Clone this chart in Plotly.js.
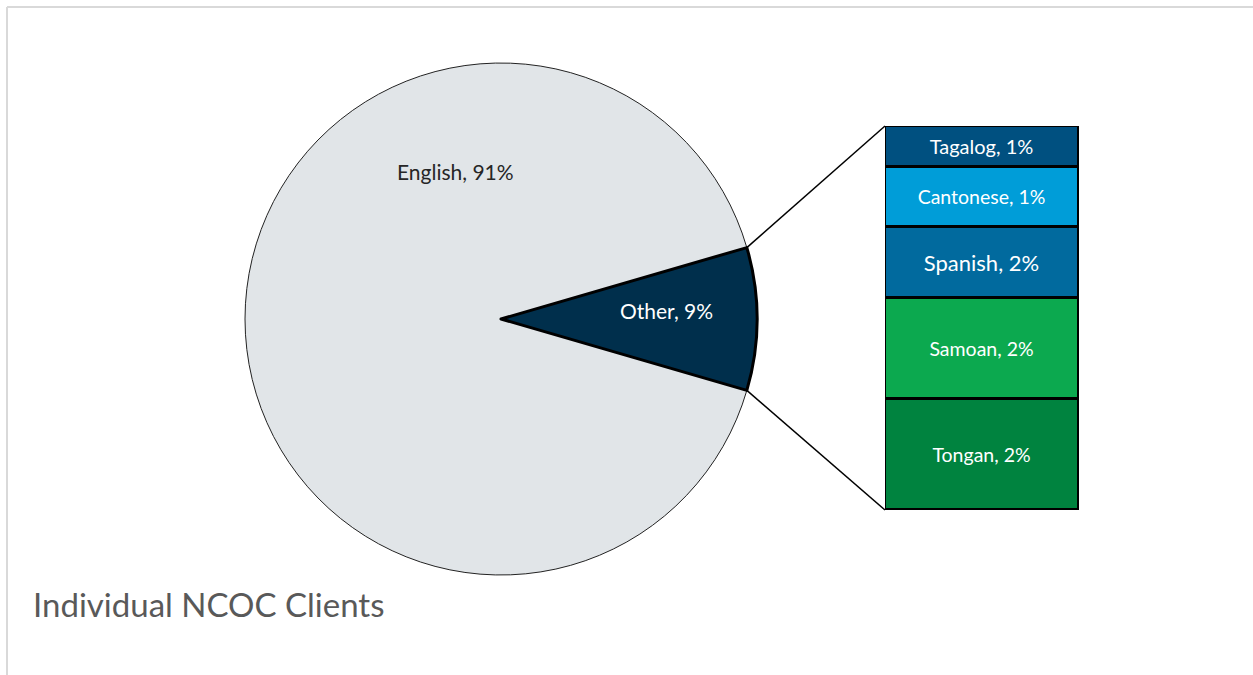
<!DOCTYPE html>
<html><head><meta charset="utf-8">
<script src="https://cdn.plot.ly/plotly-3.0.1.min.js"></script>
<style>html,body{margin:0;padding:0;background:#fff;}#chart{width:1253px;height:675px;}</style>
</head><body><div id="chart"></div>
<script>
// Pie data
const pieLabels = ["English", "Other"];
const pieValues = [91, 9];
const pieColors = ["#E1E5E8", "#002F4C"];

// Breakdown of "Other" (bottom to top)
const barLabels = ["Tongan", "Samoan", "Spanish", "Cantonese", "Tagalog"];
const barValues = [2.6, 2.37, 1.66, 1.41, 0.96];
const barShownPct = [2, 2, 2, 1, 1];
const barColors = ["#00833F", "#0CA94F", "#016A9E", "#009DD8", "#005080"];
const barFontSizes = [19.5, 19.5, 22, 19.5, 20];

const W = 1253, H = 675;
const px = x => x / W, py = y => 1 - y / H;
const FONT = "Lato, 'Open Sans', sans-serif";

// Geometry (pixels)
const pieBox = {x0: 245, x1: 757, y0: 63, y1: 575};
const barBox = {x0: 885, x1: 1079, y0: 126, y1: 510};

const totalPie = pieValues.reduce((a, b) => a + b, 0);
const otherFrac = pieValues[1] / totalPie;
const englishDeg = 360 * pieValues[0] / totalPie;
// clockwise; Other centered at 3 o'clock (90deg)
const rotation = 90 - 360 * otherFrac / 2 - englishDeg;

const traces = [{
  type: "pie",
  labels: pieLabels,
  values: pieValues,
  sort: false,
  direction: "clockwise",
  rotation: rotation,
  textinfo: "none",
  hoverinfo: "label+percent",
  marker: {colors: pieColors, line: {color: ["#222222", "#000000"], width: [1, 3]}},
  domain: {x: [px(pieBox.x0), px(pieBox.x1)], y: [py(pieBox.y1), py(pieBox.y0)]},
  showlegend: false
}];

barLabels.forEach((lab, i) => {
  traces.push({
    type: "bar",
    x: ["Other"],
    y: [barValues[i]],
    name: lab,
    text: [lab + ", " + barShownPct[i] + "%"],
    textposition: "inside",
    insidetextanchor: "middle",
    textangle: 0,
    constraintext: "none",
    cliponaxis: false,
    textfont: {color: "#ffffff", size: barFontSizes[i], family: FONT},
    marker: {color: barColors[i], line: {color: "#000000", width: 3}},
    hoverinfo: "name+y",
    showlegend: false
  });
});

const barTotal = barValues.reduce((a, b) => a + b, 0);

// Connector endpoints computed from pie geometry
const cx = (pieBox.x0 + pieBox.x1) / 2, cy = (pieBox.y0 + pieBox.y1) / 2;
const r = Math.min(pieBox.x1 - pieBox.x0, pieBox.y1 - pieBox.y0) / 2;
const half = Math.PI * otherFrac;
const topPt = {x: cx + r * Math.cos(half), y: cy - r * Math.sin(half)};
const botPt = {x: cx + r * Math.cos(half), y: cy + r * Math.sin(half)};

const layout = {
  width: W, height: H,
  margin: {l: 0, r: 0, t: 0, b: 0},
  paper_bgcolor: "#ffffff",
  plot_bgcolor: "rgba(0,0,0,0)",
  barmode: "stack",
  bargap: 0,
  font: {family: FONT},
  xaxis: {domain: [px(barBox.x0), px(barBox.x1)], visible: false, fixedrange: true},
  yaxis: {domain: [py(barBox.y1), py(barBox.y0)], range: [0, barTotal], visible: false, fixedrange: true},
  title: {
    text: "Individual NCOC Clients",
    x: px(33), xanchor: "left", xref: "paper",
    y: py(605), yanchor: "middle", yref: "paper",
    font: {size: 33, color: "#595959", family: FONT}
  },
  annotations: [
    {xref: "paper", yref: "paper", x: px(455), y: py(157), text: pieLabels[0] + ", " + pieValues[0] + "%",
     showarrow: false, font: {size: 21, color: "#262626", family: FONT}},
    {xref: "paper", yref: "paper", x: px(667), y: py(311), text: pieLabels[1] + ", " + pieValues[1] + "%",
     showarrow: false, font: {size: 21, color: "#ffffff", family: FONT}}
  ],
  shapes: [
    {type: "line", xref: "paper", yref: "paper", x0: px(topPt.x), y0: py(topPt.y), x1: px(barBox.x0), y1: py(barBox.y0),
     line: {color: "#000000", width: 1.5}},
    {type: "line", xref: "paper", yref: "paper", x0: px(botPt.x), y0: py(botPt.y), x1: px(barBox.x0), y1: py(barBox.y1),
     line: {color: "#000000", width: 1.5}},
    {type: "line", xref: "paper", yref: "paper", x0: px(7), y0: py(7), x1: 1, y1: py(7),
     line: {color: "#D9D9D9", width: 2}},
    {type: "line", xref: "paper", yref: "paper", x0: px(7), y0: py(7), x1: px(7), y1: 0,
     line: {color: "#D9D9D9", width: 2}}
  ]
};

Plotly.newPlot("chart", traces, layout, {displayModeBar: false});
</script>
</body></html>
